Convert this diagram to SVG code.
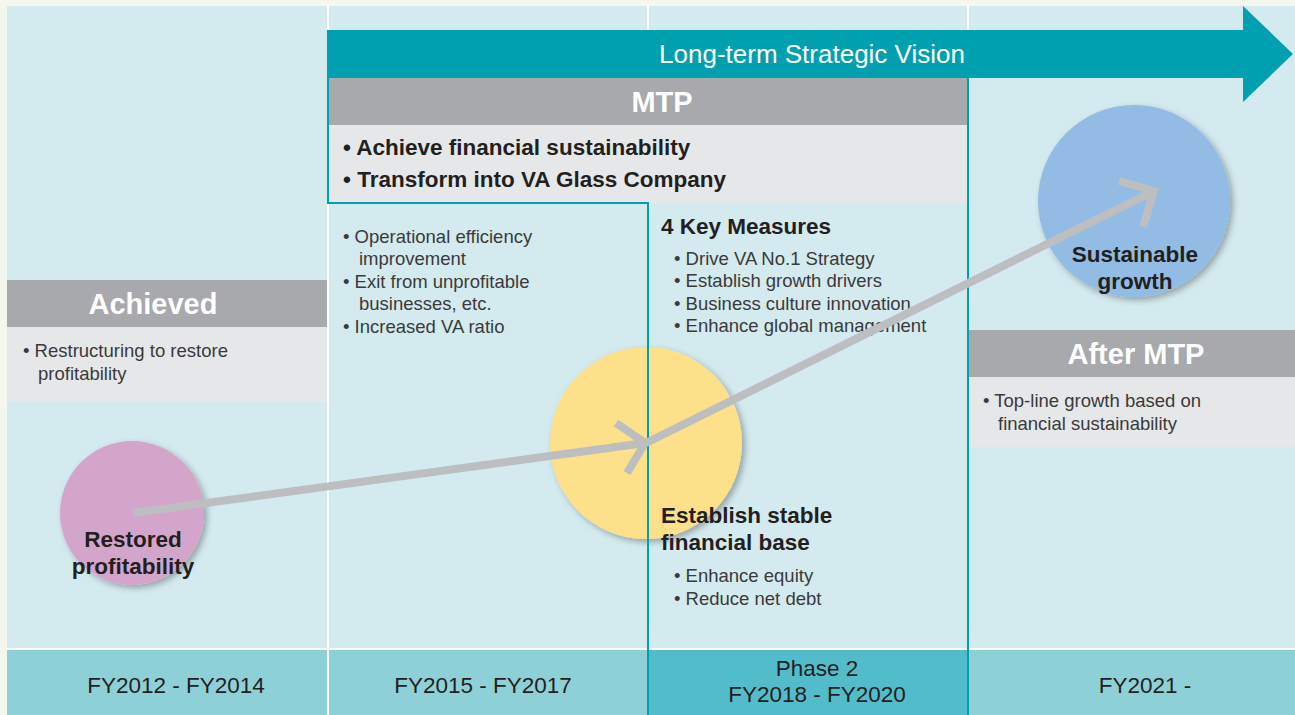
<svg xmlns="http://www.w3.org/2000/svg" width="1295" height="715" viewBox="0 0 1295 715">
<style>
.t{font-family:"Liberation Sans","Noto Sans",sans-serif;}
.hd{font-family:"Liberation Sans","Noto Sans",sans-serif;font-weight:bold;fill:#fff;text-anchor:middle;font-size:29px;}
.bd{font-family:"Liberation Sans","Noto Sans",sans-serif;font-weight:bold;fill:#231f20;font-size:22.5px;}
.bl{font-family:"Liberation Sans","Noto Sans",sans-serif;font-size:18.5px;fill:#3a3a3a;}
.yr{font-family:"Liberation Sans","Noto Sans",sans-serif;font-size:22.5px;fill:#231f20;text-anchor:middle;}
.gh{fill:#a7a9ac;}
.gb{fill:#e6e7e9;}
.tl{fill:none;stroke:#00a0b0;stroke-width:2;}
.ar{fill:none;stroke:#bcbec0;stroke-width:8;stroke-linecap:butt;stroke-linejoin:miter;}
</style>
<defs>
<filter id="sh" x="-20%" y="-20%" width="150%" height="150%">
<feDropShadow dx="3" dy="3" stdDeviation="3" flood-color="#000" flood-opacity="0.3"/>
</filter>
</defs>
<g id="background">
<rect x="0" y="0" width="1295" height="715" fill="#f3f7ee"/>
<rect x="7" y="6" width="1288" height="709" fill="#d3eaee"/>
<rect x="7" y="648" width="1288" height="67" fill="#ffffff"/>
<rect x="7" y="650" width="320" height="65" fill="#8ed0d8"/>
<rect x="329" y="650" width="318" height="65" fill="#8ed0d8"/>
<rect x="649" y="650" width="318" height="65" fill="#52bccb"/>
<rect x="969" y="650" width="326" height="65" fill="#8ed0d8"/>
<rect x="327" y="6" width="2" height="709" fill="#ffffff"/>
<rect x="647" y="6" width="2" height="709" fill="#ffffff"/>
<rect x="967" y="6" width="2" height="709" fill="#ffffff"/>
</g>
<g id="vision-arrow">
<polygon points="327,30 1243,30 1243,6 1293,54 1243,102 1243,78 327,78" fill="#00a0b0"/>
<text class="t" x="812" y="63" font-size="26" fill="#ffffff" text-anchor="middle">Long-term Strategic Vision</text>
</g>
<g id="mtp">
<rect class="gh" x="329" y="78" width="638" height="47"/>
<rect class="gb" x="329" y="125" width="638" height="78"/>
<text class="hd" x="662" y="112">MTP</text>
<text class="bd" x="343" y="155">• Achieve financial sustainability</text>
<text class="bd" x="343" y="187">• Transform into VA Glass Company</text>
</g>
<g id="achieved">
<rect class="gh" x="7" y="280" width="320" height="47"/>
<rect class="gb" x="7" y="327" width="320" height="75"/>
<text class="hd" x="153" y="314">Achieved</text>
<text class="bl" x="23" y="357">• Restructuring to restore</text>
<text class="bl" x="38" y="380">profitability</text>
</g>
<g id="after-mtp">
<rect class="gh" x="969" y="330" width="326" height="47"/>
<rect class="gb" x="969" y="377" width="326" height="70"/>
<text class="hd" x="1136" y="364">After MTP</text>
<text class="bl" x="983" y="407">• Top-line growth based on</text>
<text class="bl" x="998" y="430">financial sustainability</text>
</g>
<g id="restored-profitability">
<circle cx="132" cy="513" r="72" fill="#d4a5cb" filter="url(#sh)"/>
<text class="bd" x="133" y="547" text-anchor="middle">Restored</text>
<text class="bd" x="133" y="574" text-anchor="middle">profitability</text>
</g>
<g id="stable-base">
<circle cx="646" cy="443" r="96" fill="#fde08a" filter="url(#sh)"/>
</g>
<g id="sustainable-growth">
<circle cx="1134" cy="201" r="96" fill="#92bce4" filter="url(#sh)"/>
<text class="bd" x="1135" y="262" text-anchor="middle">Sustainable</text>
<text class="bd" x="1135" y="289" text-anchor="middle">growth</text>
</g>
<g id="phase-outline">
<polyline class="tl" points="328,78 328,203 648,203 648,715"/>
<line class="tl" x1="968" y1="78" x2="968" y2="715"/>
</g>
<g id="phase1-measures">
<text class="bl" x="343" y="243">• Operational efficiency</text>
<text class="bl" x="359" y="265">improvement</text>
<text class="bl" x="343" y="288">• Exit from unprofitable</text>
<text class="bl" x="359" y="310">businesses, etc.</text>
<text class="bl" x="343" y="333">• Increased VA ratio</text>
</g>
<g id="key-measures">
<text class="bd" x="661" y="234">4 Key Measures</text>
<text class="bl" x="674" y="265">• Drive VA No.1 Strategy</text>
<text class="bl" x="674" y="287">• Establish growth drivers</text>
<text class="bl" x="674" y="310">• Business culture innovation</text>
<text class="bl" x="674" y="332">• Enhance global management</text>
</g>
<g id="financial-base">
<text class="bd" x="661" y="523">Establish stable</text>
<text class="bd" x="661" y="550">financial base</text>
<text class="bl" x="674" y="582">• Enhance equity</text>
<text class="bl" x="674" y="605">• Reduce net debt</text>
</g>
<g id="connectors">
<line class="ar" x1="133" y1="513" x2="645" y2="443"/>
<polyline class="ar" points="616,423 645,443 627,473"/>
<line class="ar" x1="646" y1="443" x2="1154" y2="191"/>
<polyline class="ar" points="1119,181 1154,191 1143,227"/>
</g>
<g id="timeline">
<text class="yr" x="176" y="693">FY2012 - FY2014</text>
<text class="yr" x="483" y="693">FY2015 - FY2017</text>
<text class="yr" x="817" y="676">Phase 2</text>
<text class="yr" x="817" y="702">FY2018 - FY2020</text>
<text class="yr" x="1145" y="693">FY2021 -</text>
</g>
</svg>
